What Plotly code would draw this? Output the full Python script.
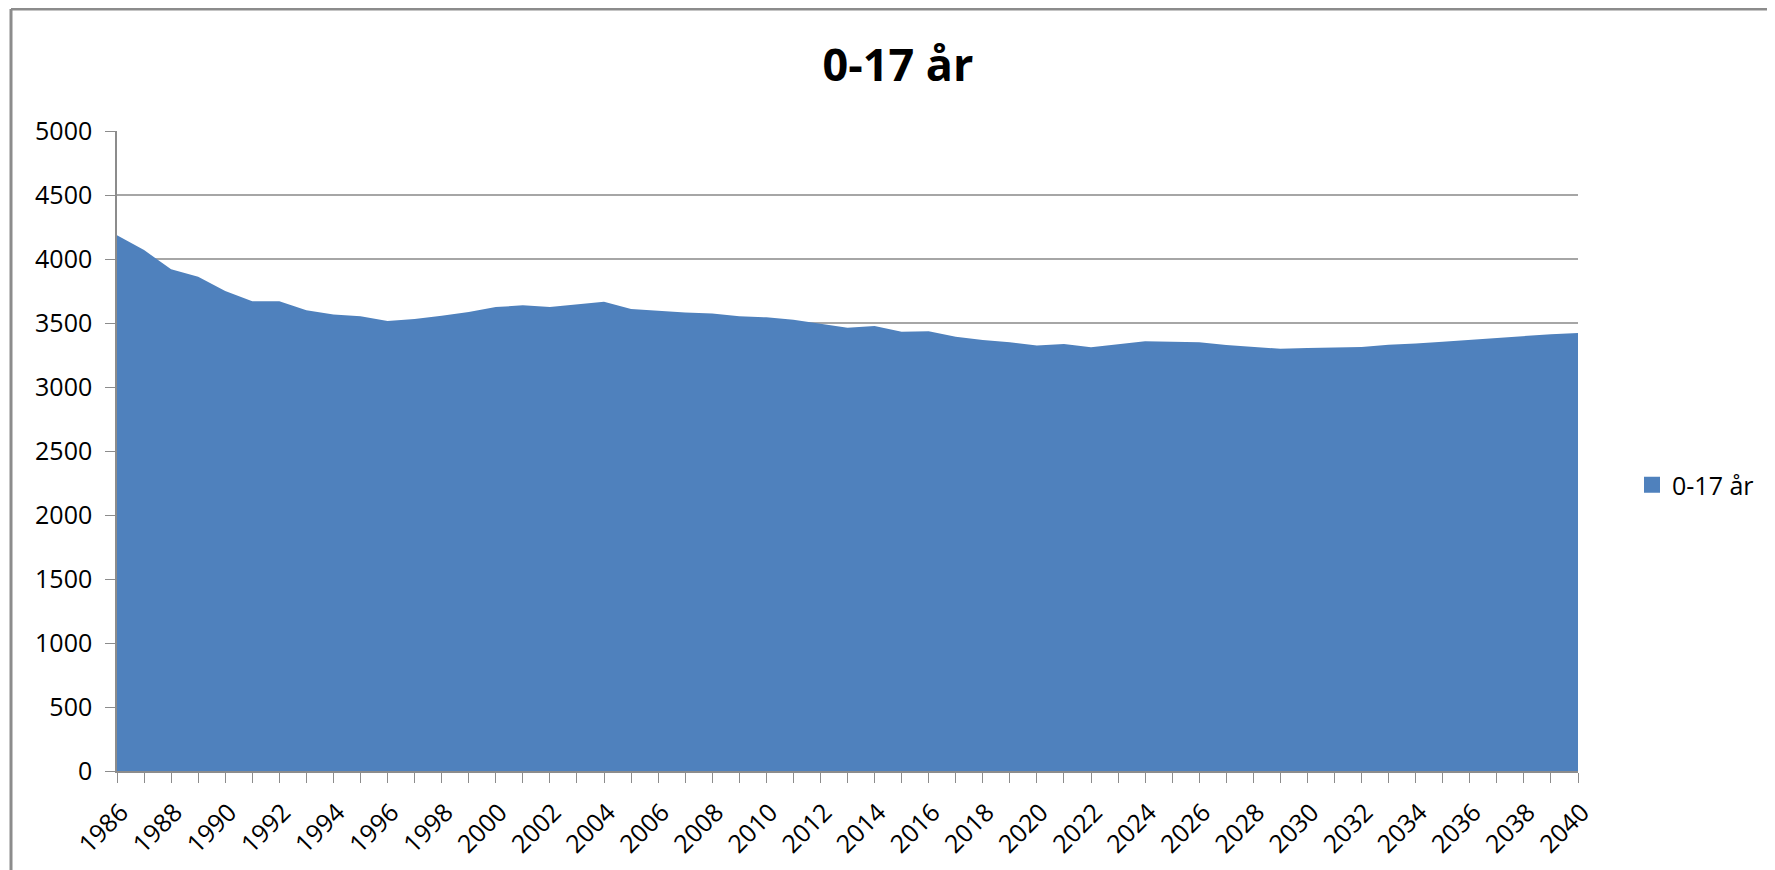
import plotly.graph_objects as go

years = list(range(1986, 2041))
values = [4185, 4070, 3919, 3862, 3750, 3669, 3669, 3599, 3567, 3552,
          3515, 3531, 3557, 3586, 3625, 3638, 3625, 3643, 3666, 3609,
          3594, 3583, 3575, 3552, 3544, 3526, 3494, 3463, 3476, 3432,
          3435, 3393, 3367, 3349, 3325, 3336, 3310, 3336, 3357, 3354,
          3349, 3328, 3315, 3299, 3304, 3307, 3312, 3331, 3339, 3354,
          3370, 3384, 3399, 3413, 3421]
series_name = "0-17 år"
title_text = "0-17 år"
y_ticks = [0, 500, 1000, 1500, 2000, 2500, 3000, 3500, 4000, 4500, 5000]
x_ticks = list(range(1986, 2041, 2))

FONT = "Open Sans"
BLUE = "#4F81BD"
GRAY = "#8c8c8c"

fig = go.Figure()
fig.add_trace(go.Scatter(
    x=years, y=values, name=series_name, mode="lines",
    line=dict(color=BLUE, width=0), fill="tozeroy", fillcolor=BLUE,
    showlegend=False,
))
# legend entry (square swatch)
fig.add_trace(go.Scatter(
    x=[None], y=[None], name=series_name, mode="markers",
    marker=dict(symbol="square", size=16, color=BLUE), showlegend=True,
))

OFF = 8  # page body margin
W, H = 1775 - OFF, 870 - OFF
L, R, T, B = 117 - OFF, 197, 131 - OFF, 99
pw, ph = W - L - R, H - T - B

fig.update_layout(
    width=W, height=H,
    margin=dict(l=L, r=R, t=T, b=B, autoexpand=False),
    paper_bgcolor="white", plot_bgcolor="white",
    font=dict(family=FONT, size=25, color="#000000"),
    title=dict(text="<b>" + title_text + "</b>", x=(898 - OFF) / W, xanchor="center",
               y=1 - (65 - OFF) / H, yanchor="middle", yref="container",
               font=dict(family=FONT, size=45, color="#000000")),
    showlegend=True,
    legend=dict(x=(1632 - OFF - L) / pw, xanchor="left",
                y=(H - B - (485 - OFF)) / ph, yanchor="middle",
                font=dict(family=FONT, size=25), bgcolor="rgba(0,0,0,0)",
                itemwidth=30),
    xaxis=dict(range=[1986, 2040], tickmode="array", tickvals=x_ticks,
               ticktext=[str(v) for v in x_ticks], tickangle=-45,
               showgrid=False, showline=True, linecolor=GRAY, linewidth=1.5,
               ticks="outside", ticklen=10, tickcolor=GRAY, tickwidth=1,
               minor=dict(dtick=1, tick0=1986, ticks="outside", ticklen=10,
                          tickcolor=GRAY, tickwidth=1, showgrid=False),
               zeroline=False, ticklabelstandoff=5, ticklabelshift=4,
               tickfont=dict(family=FONT, size=25)),
    yaxis=dict(range=[0, 5000], tickmode="array", tickvals=y_ticks,
               showgrid=True, gridcolor="#a6a6a6", gridwidth=1.5,
               showline=True, linecolor=GRAY, linewidth=1.5,
               ticks="outside", ticklen=10, tickcolor=GRAY, tickwidth=1,
               zeroline=False, ticklabelstandoff=8,
               tickfont=dict(family=FONT, size=25)),
)

# chart border (left and top edges visible)
bx = (11 - OFF - L) / pw
by = (H - B - (9 - OFF)) / ph
fig.add_shape(type="line", xref="paper", yref="paper",
              x0=bx, x1=(W + 5 - L) / pw, y0=by, y1=by,
              line=dict(color=GRAY, width=3))
fig.add_shape(type="line", xref="paper", yref="paper",
              x0=bx, x1=bx, y0=by, y1=(-B - 10) / ph,
              line=dict(color=GRAY, width=3))

fig.write_html("out.html")
